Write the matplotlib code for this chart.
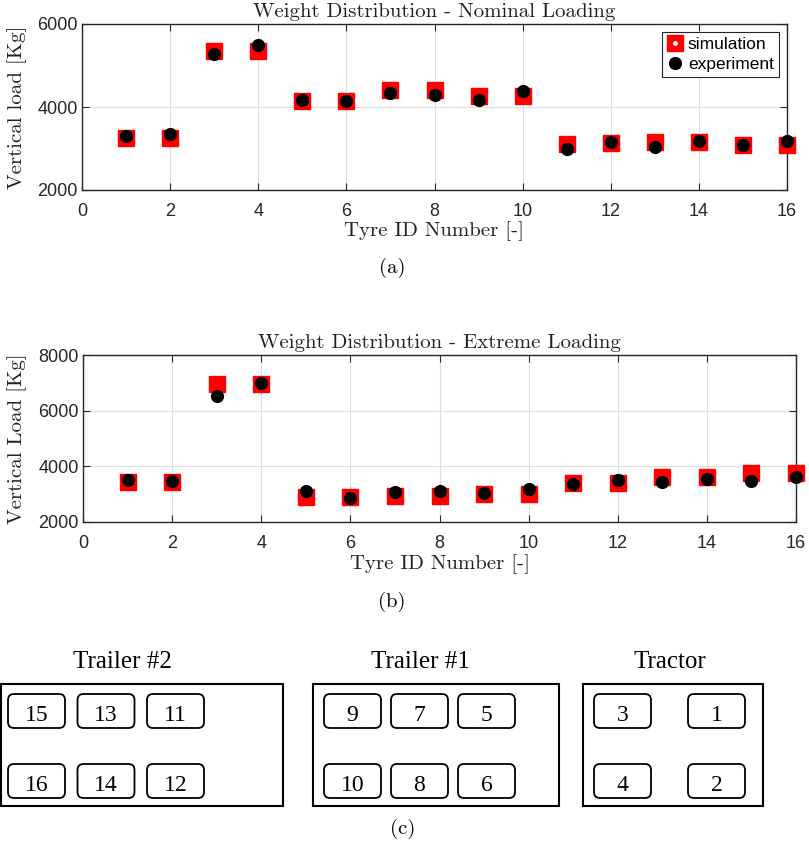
import matplotlib
matplotlib.use('Agg')
import matplotlib.pyplot as plt
from matplotlib.lines import Line2D
from matplotlib.patches import FancyBboxPatch, Rectangle

# ─── DATA ─────────────────────────────────────────────────────────────────────
tyre_id = [1, 2, 3, 4, 5, 6, 7, 8, 9, 10, 11, 12, 13, 14, 15, 16]

sim_nominal = [3250, 3250, 5350, 5350, 4150, 4150, 4400, 4420,
               4260, 4270, 3120, 3130, 3150, 3150, 3080, 3080]
exp_nominal = [3310, 3350, 5280, 5490, 4160, 4150, 4330, 4300,
               4170, 4380, 3000, 3150, 3040, 3170, 3090, 3190]

sim_extreme = [3450, 3450, 6950, 6950, 2900, 2900, 2950, 2940,
               3000, 3000, 3400, 3400, 3600, 3600, 3760, 3760]
exp_extreme = [3500, 3480, 6540, 6980, 3100, 2880, 3080, 3100,
               3050, 3200, 3380, 3500, 3430, 3560, 3480, 3600]

# schéma du véhicule
groupes = ["Trailer #2", "Trailer #1", "Tractor"]
roues_haut = [[15, 13, 11], [9, 7, 5], [3, 1]]
roues_bas = [[16, 14, 12], [10, 8, 6], [4, 2]]

# ─── STYLE ────────────────────────────────────────────────────────────────────
W, H = 809, 851
SERIF = 'cmr10'              # police LaTeX (Computer Modern) livrée avec matplotlib
SANS = 'Liberation Sans'
TIMES = 'Liberation Serif'
DARK = '#262626'

fig = plt.figure(figsize=(W / 100, H / 100), dpi=100)


def px_axes(left, top, right, bottom):
    # axes placés en pixels (origine en haut à gauche)
    return fig.add_axes([left / W, 1 - bottom / H, (right - left) / W, (bottom - top) / H])


def style_axes(ax, ylim, yticks, title, ylabel):
    ax.set_xlim(0, 16)
    ax.set_ylim(*ylim)
    ax.set_xticks(range(0, 17, 2))
    ax.set_yticks(yticks)
    ax.grid(True, color='#dedede', linewidth=0.8)
    ax.set_axisbelow(True)
    for sp in ax.spines.values():
        sp.set_color(DARK)
        sp.set_linewidth(1.0)
    ax.tick_params(direction='in', length=5, width=0.8, color=DARK,
                   top=True, right=True, labelsize=13, labelcolor=DARK)
    ax.tick_params(axis='x', pad=9)
    ax.tick_params(axis='y', pad=3)
    for lab in ax.get_xticklabels() + ax.get_yticklabels():
        lab.set_fontfamily(SANS)
    ax.set_title(title, fontfamily=SERIF, fontsize=15, pad=5, color='#222222')
    ax.set_xlabel("Tyre ID Number [-]", fontfamily=SERIF, fontsize=15, color='#222222')
    ax.set_ylabel(ylabel, fontfamily=SERIF, fontsize=15, color='#222222')
    ax.xaxis.set_label_coords(0.5, -0.19)
    ax.yaxis.set_label_coords(-0.078, 0.5)


def points(ax, sim, exp):
    ax.plot(tyre_id, sim, 's', color='#ff0000', mec='#ff0000', ms=11.3,
            zorder=3, clip_on=False)
    ax.plot(tyre_id, exp, 'o', color='black', ms=8.5, zorder=4, clip_on=False)


# ─── (a) NOMINAL ──────────────────────────────────────────────────────────────
ax1 = px_axes(82, 24, 787, 190)
points(ax1, sim_nominal, exp_nominal)
style_axes(ax1, (2000, 6000), [2000, 4000, 6000],
           "Weight Distribution - Nominal Loading", "Vertical load [Kg]")

h_sim = (Line2D([], [], ls='', marker='s', color='#ff0000', ms=11),
         Line2D([], [], ls='', marker='o', color='white', ms=2.5))
h_exp = Line2D([], [], ls='', marker='o', color='black', ms=8.5)
leg = ax1.legend([h_sim, h_exp], ["simulation", "experiment"],
                 loc='upper right', bbox_to_anchor=(0.9887, 0.9518),
                 borderaxespad=0, fancybox=False, framealpha=1,
                 edgecolor=DARK, handlelength=0.9, handletextpad=0.3,
                 labelspacing=0.25, borderpad=0.3,
                 prop={'family': SANS, 'size': 12.5})
leg.get_frame().set_linewidth(0.8)

# ─── (b) EXTREME ──────────────────────────────────────────────────────────────
ax2 = px_axes(83, 355, 796, 522)
points(ax2, sim_extreme, exp_extreme)
style_axes(ax2, (2000, 8000), [2000, 4000, 6000, 8000],
           "Weight Distribution - Extreme Loading", "Vertical Load [Kg]")

# ─── (c) SCHÉMA ───────────────────────────────────────────────────────────────
ax3 = fig.add_axes([0, 0, 1, 1], zorder=-1)
ax3.set_xlim(0, W)
ax3.set_ylim(H, 0)
ax3.axis('off')

box_x = [(1, 283), (313, 559), (583, 763)]
box_y = (684, 806)
titre_x = [122, 420, 670]
roue_x0 = [8, 324, 594]
roue_dx = [69.5, 67, 94]
roue_y = [694, 764]
roue_w, roue_h = 57, 34

for i, nom in enumerate(groupes):
    x0, x1 = box_x[i]
    ax3.add_patch(Rectangle((x0, box_y[0]), x1 - x0, box_y[1] - box_y[0],
                            fill=False, edgecolor='black', linewidth=1.5))
    ax3.text(titre_x[i], 668, nom, ha='center', va='baseline',
             fontfamily=TIMES, fontsize=18)
    for r, rangee in enumerate([roues_haut[i], roues_bas[i]]):
        for j, num in enumerate(rangee):
            rx = roue_x0[i] + j * roue_dx[i]
            ry = roue_y[r]
            ax3.add_patch(FancyBboxPatch((rx, ry), roue_w, roue_h,
                                         boxstyle="round,pad=0,rounding_size=6",
                                         fill=False, edgecolor='black', linewidth=1.3))
            ax3.text(rx + roue_w / 2, ry + roue_h / 2 + 10, str(num),
                     ha='center', va='baseline', fontfamily=TIMES, fontsize=17)

# sous-légendes
for lab, (x, y) in zip(["(a)", "(b)", "(c)"], [(392, 268), (392, 602), (403, 829)]):
    ax3.text(x, y, lab, ha='center', va='center', fontfamily=SERIF, fontsize=15)

plt.savefig('out.png', dpi=100)
plt.close()
